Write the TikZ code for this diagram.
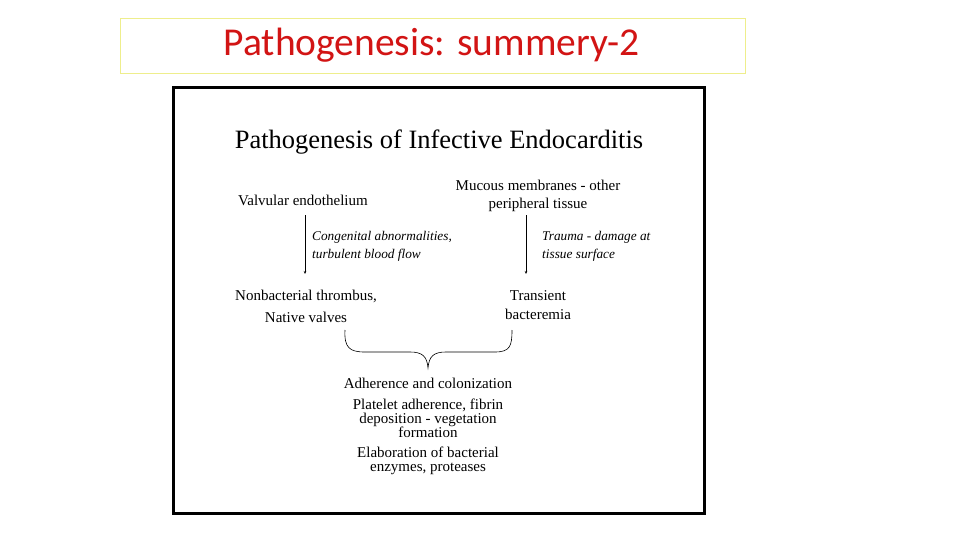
\documentclass[tikz,border=0pt]{standalone}
\usepackage{fontspec}
\setmainfont{Liberation Serif}
\newfontfamily\calib{Carlito}
\usetikzlibrary{arrows.meta}
\definecolor{titlered}{RGB}{210,20,20}
\definecolor{boxyellow}{RGB}{238,238,140}
\begin{document}
\begin{tikzpicture}[x=1pt,y=-1pt,
  body/.style={font=\fontsize{15}{16}\selectfont, inner sep=0pt, align=center},
  note/.style={font=\fontsize{13.3}{18}\selectfont\itshape, inner sep=0pt, align=left, anchor=west},
  flow/.style={-{Stealth[length=3pt,width=2.5pt]}, line width=0.5pt}]
\useasboundingbox (0,0) rectangle (960,540);
\fill[white] (0,0) rectangle (960,540);
% title box
\node[draw=boxyellow, line width=0.8pt, minimum width=625pt, minimum height=55pt, inner sep=0pt] (tbox) at (432.5,45.5) {};
\node[text=titlered, font=\calib\fontsize{39.5}{40}\selectfont, inner sep=0pt] (title) at (431.5,45) {Pathogenesis: summery-2};
% figure frame
\node[draw=black, line width=2.5pt, minimum width=531pt, minimum height=426pt, inner sep=0pt] (frame) at (439,300.5) {};
\node[font=\fontsize{26.5}{28}\selectfont, inner sep=0pt] (head) at (439,142) {Pathogenesis of Infective Endocarditis};
\node[body] (ve) at (303,200) {Valvular endothelium};
\node[body, font=\fontsize{15}{18}\selectfont] (mm) at (538,196) {Mucous membranes - other\\peripheral tissue};
\node[note] (cong) at (312,246) {Congenital abnormalities,\\turbulent blood flow};
\node[note] (trau) at (542,246) {Trauma - damage at\\tissue surface};
\node[body, font=\fontsize{15}{22}\selectfont] (nt) at (306,306) {Nonbacterial thrombus,\\Native valves};
\node[body, font=\fontsize{15}{19}\selectfont] (tb) at (538,305.5) {Transient\\bacteremia};
\coordinate (a1s) at (305,215); \coordinate (a1e) at (305,274);
\coordinate (a2s) at (526,215); \coordinate (a2e) at (526,274);
\draw[flow] (a1s) -- (a1e);
\draw[flow] (a2s) -- (a2e);
% brace
\coordinate (bl) at (345,330);
\coordinate (tip) at (428,368);
\coordinate (br) at (512,330);
\draw[line width=0.6pt] (bl) .. controls (344,348) and (350,352) .. (365,352)
  -- (410,352) .. controls (422,352) and (427,356) .. (tip)
  .. controls (429,356) and (434,352) .. (446,352)
  -- (495,352) .. controls (510,352) and (512,346) .. (br);
\node[body] (adh) at (428,383) {Adherence and colonization};
\node[body, font=\fontsize{15}{14}\selectfont] (plt) at (428,418) {Platelet adherence, fibrin\\deposition - vegetation\\formation};
\node[body, font=\fontsize{15}{14}\selectfont] (ela) at (428,461) {Elaboration of bacterial\\enzymes, proteases};
\end{tikzpicture}
\end{document}
